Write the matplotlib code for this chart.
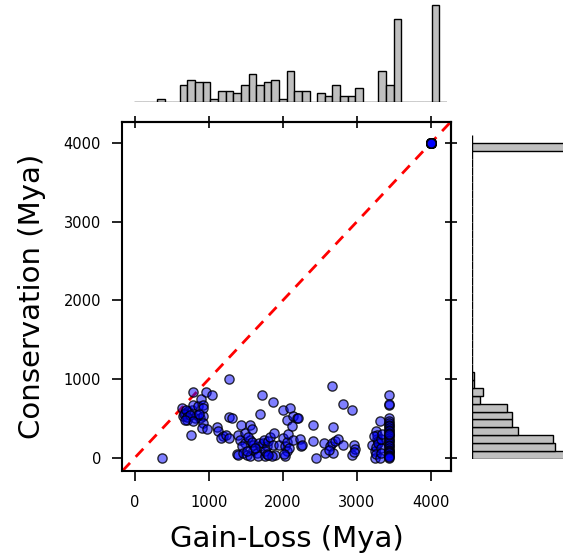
import matplotlib
matplotlib.use("Agg")
import matplotlib.pyplot as plt
import numpy as np

# scatter points (Mya)
gain_loss = [
    360,
    640, 653, 675, 698, 720, 766, 790, 788, 810, 833, 855, 878, 887, 914,
    923, 923, 923, 901, 960, 977, 757, 660, 690, 700, 740, 780, 860, 680,
    1045,
    1112, 1126, 1193, 1158, 1229, 1270, 1274, 1270, 1306, 1396, 1380, 1396,
    1428, 1486, 1418, 1486, 1441, 1460,
    1554, 1576, 1554, 1590, 1509, 1554, 1599, 1509, 1530, 1580,
    1644, 1689, 1689, 1660, 1680, 1620,
    1711, 1756, 1734, 1779, 1756, 1780, 1740,
    1860, 1801, 1824, 1869, 1891, 1846, 1801, 1880,
    1950,
    2004, 2094, 2049, 2004, 2027, 2049, 2027, 2060, 2080, 2010, 2070,
    2117, 2139, 2184, 2139,
    2207, 2229, 2243, 2260,
    2409, 2409, 2445,
    2558, 2566,
    2666, 2670, 2634, 2670, 2657, 2620,
    2702, 2738,
    2815, 2806,
    2936, 2927, 2963, 2972, 2954,
    3206, 3256, 3265, 3265, 3242, 3242, 3287, 3260, 3250, 3280, 3230,
    3310, 3310, 3323, 3323, 3330, 3340,
] + [3436] * 30 + [4000] * 35

conservation = [
    0,
    630, 525, 567, 483, 588, 610, 830, 673, 504, 546, 652, 504, 750, 665,
    525, 630, 440, 377, 840, 364, 292, 560, 600, 520, 540, 470, 560, 480,
    800,
    385, 334, 271, 250, 292, 1000, 250, 512, 504, 292, 45, 38,
    419, 313, 229, 186, 144, 60,
    419, 364, 229, 157, 38, 17, 102, 89, 260, 200,
    59, 144, 555, 20, 190, 120,
    800, 17, 186, 144, 80, 40, 230,
    702, 207, 258, 165, 38, 17, 38, 310,
    160,
    610, 630, 483, 250, 144, 80, 17, 200, 120, 40, 300,
    398, 525, 504, 229,
    504, 241, 144, 165,
    419, 207, 0,
    186, 59,
    915, 385, 144, 59, 186, 100,
    216, 241,
    682, 165,
    610, 38, 165, 114, 72,
    165, 343, 241, 292, 80, 0, 207, 130, 40, 180, 280,
    0, 461, 123, 59, 240, 300,
    800, 665, 680, 504, 461, 440, 419, 398, 377, 355, 334, 313, 292, 271, 250,
    229, 207, 186, 165, 144, 123, 102, 80, 72, 59, 38, 17, 0, 10, 300,
] + [4000] * 35

# marginal histogram counts, 100 Mya bins from 0 to 4100
bin_edges = np.arange(0, 4101, 100)
gain_loss_counts = [0, 0, 0, 1, 0, 0, 6, 8, 7, 7, 1, 4, 4, 3, 6, 10, 6, 7, 8, 1,
                    11, 4, 4, 0, 3, 2, 6, 2, 2, 5, 0, 0, 11, 6, 30, 0, 0, 0, 0, 35, 0]
conservation_counts = [35, 31, 30, 17, 15, 15, 13, 3, 4, 1, 1] + [0] * 28 + [35, 0]
ticks = [0, 1000, 2000, 3000, 4000]

W, H = 563, 556
fig = plt.figure(figsize=(W / 100, H / 100), dpi=100)

ax = fig.add_axes([122 / W, 1 - 471 / H, 329 / W, 349 / H])
ax_top = fig.add_axes([134 / W, 1 - 101.7 / H, 313 / W, 101.7 / H])
ax_right = fig.add_axes([471.7 / W, 1 - 459 / H, (W - 471.7) / W, 324 / H])

# main scatter
ax.axline((0, 0), slope=1, color='red', linestyle='--', linewidth=2, dashes=(4, 3), zorder=1)
ax.scatter(gain_loss, conservation, s=44, facecolors=[(0, 0, 1, 0.5)],
           edgecolors=[(0, 0, 0, 0.8)], linewidths=1, zorder=2)
ax.set_xlim(-175, 4270)
ax.set_ylim(-170, 4265)
ax.set_xticks(ticks)
ax.set_yticks(ticks)
ax.tick_params(axis='both', labelsize=10.5, width=1.2, direction='out', length=7)
ax.tick_params(axis='x', pad=10)
ax.tick_params(axis='y', pad=8)
for sp in ax.spines.values():
    sp.set_linewidth(1.5)
ax.set_xlabel('Gain-Loss (Mya)', fontsize=21, labelpad=11)
ax.set_ylabel('Conservation (Mya)', fontsize=21, labelpad=13)

# top and right ticks cross the frame
sec_x = ax.secondary_xaxis('top')
sec_x.set_xticks(ticks)
sec_x.tick_params(direction='inout', length=8, width=1.2, labeltop=False)
sec_x.spines['top'].set_linewidth(1.5)
sec_y = ax.secondary_yaxis('right')
sec_y.set_yticks(ticks)
sec_y.tick_params(direction='inout', length=8, width=1.2, labelright=False)
sec_y.spines['right'].set_linewidth(1.5)

# top histogram
widths = np.diff(bin_edges)
ax_top.bar(bin_edges[:-1], gain_loss_counts, width=widths, align='edge',
           color='#bfbfbf', edgecolor='black', linewidth=1)
ax_top.set_xlim(0, 4100)
ax_top.set_ylim(0, 36.7)
ax_top.axis('off')

# right histogram
ax_right.barh(bin_edges[:-1], conservation_counts, height=widths, align='edge',
              color='#bfbfbf', edgecolor='black', linewidth=1)
ax_right.set_ylim(0, 4100)
ax_right.set_xlim(0, 33.8)
ax_right.axis('off')

fig.savefig('out.png', dpi=100)
